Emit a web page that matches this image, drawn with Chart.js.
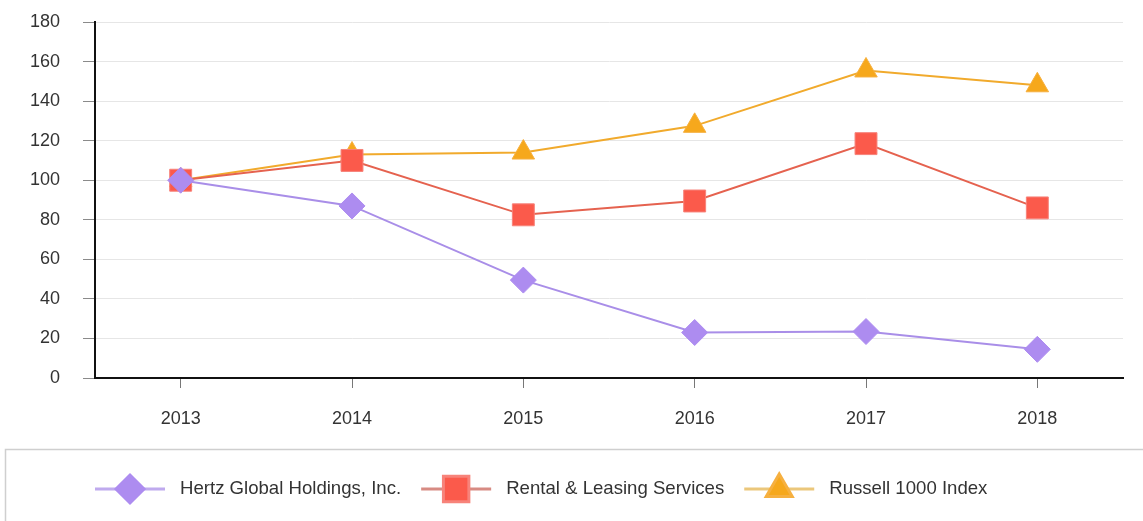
<!DOCTYPE html>
<html>
<head>
<meta charset="utf-8">
<style>
  html, body { margin: 0; padding: 0; background: #fff; }
</style>
</head>
<body>
<canvas id="perfChart" width="1143" height="521"></canvas>

<script src="https://cdn.jsdelivr.net/npm/chart.js"></script>
<script>
    // values (indexed, 2013 = 100)
    const years = ['2013', '2014', '2015', '2016', '2017', '2018'];
    const hertzValues = [100, 87, 49.5, 23, 23.5, 14.5];
    const rentalValues = [100, 110, 82.5, 89.5, 118.5, 86];
    const russellValues = [100, 113, 114, 127.5, 155.5, 148];
    const yTicks = [0, 20, 40, 60, 80, 100, 120, 140, 160, 180];

    const seriesNames = ['Hertz Global Holdings, Inc.', 'Rental & Leasing Services', 'Russell 1000 Index'];

    const FONT = '"Liberation Sans", Arial, sans-serif';

    // legend in a bordered box, line + marker like the original
    const legendBox = {
        id: 'legendBox',
        afterDraw(chart) {
            const ctx = chart.ctx;
            ctx.save();
            ctx.strokeStyle = '#cfcfcf';
            ctx.lineWidth = 1.5;
            ctx.strokeRect(5.5, 449.5, chart.width + 20, 120);

            let x = 95;
            const y = 489;
            ctx.font = '18.6px ' + FONT;
            ctx.textBaseline = 'middle';
            chart.data.datasets.forEach(ds => {
                ctx.strokeStyle = ds.legendLine;
                ctx.lineWidth = 3;
                ctx.beginPath();
                ctx.moveTo(x, y);
                ctx.lineTo(x + 70, y);
                ctx.stroke();

                ctx.fillStyle = ds.pointBackgroundColor;
                ctx.strokeStyle = ds.pointBorderColor;
                Chart.helpers.drawPoint(ctx, {
                    pointStyle: ds.pointStyle,
                    radius: ds.legendRadius,
                    borderWidth: 1,
                    rotation: 0
                }, x + 35, y);

                ctx.fillStyle = '#333';
                ctx.fillText(ds.label, x + 85, y);
                x += 85 + ctx.measureText(ds.label).width + 20;
            });
            ctx.restore();
        }
    };

    new Chart(document.getElementById('perfChart').getContext('2d'), {
        type: 'line',
        data: {
            labels: years,
            datasets: [
                {
                    label: seriesNames[0],
                    data: hertzValues,
                    borderColor: '#a98ee8',
                    borderWidth: 2,
                    pointStyle: 'rectRot',
                    pointRadius: 13,
                    pointBackgroundColor: '#ad8cf0',
                    pointBorderColor: '#ad8cf0',
                    pointBorderWidth: 1,
                    legendRadius: 14,
                    legendLine: 'rgba(169, 142, 232, 0.75)',
                    tension: 0
                },
                {
                    label: seriesNames[1],
                    data: rentalValues,
                    borderColor: '#e5624f',
                    borderWidth: 2,
                    pointStyle: 'rect',
                    pointRadius: 15.5,
                    pointBackgroundColor: '#fb5a4b',
                    pointBorderColor: '#f7837a',
                    pointBorderWidth: 1,
                    legendRadius: 18,
                    legendLine: 'rgba(205, 110, 100, 0.8)',
                    tension: 0
                },
                {
                    label: seriesNames[2],
                    data: russellValues,
                    borderColor: '#f1aa2c',
                    borderWidth: 2,
                    pointStyle: 'triangle',
                    pointRadius: 13,
                    pointBackgroundColor: '#f6a81c',
                    pointBorderColor: '#f6b040',
                    pointBorderWidth: 1,
                    legendRadius: 15,
                    legendLine: 'rgba(230, 185, 90, 0.8)',
                    tension: 0
                }
            ]
        },
        options: {
            responsive: false,
            animation: false,
            devicePixelRatio: 1,
            layout: {
                padding: { top: 22, right: 20, bottom: 83, left: 0 }
            },
            scales: {
                y: {
                    min: 0,
                    max: 180,
                    afterBuildTicks: scale => {
                        scale.ticks = yTicks.map(v => ({ value: v }));
                    },
                    afterFit: scale => {
                        scale.width = 95;
                        scale.paddingTop = 0;
                        scale.paddingBottom = 0;
                    },
                    ticks: {
                        color: '#333',
                        padding: 23,
                        font: { family: FONT, size: 18 }
                    },
                    grid: {
                        color: '#e6e6e6',
                        lineWidth: 1,
                        tickColor: '#8a8a8a',
                        tickLength: 12
                    },
                    border: { display: true, color: '#111', width: 2 }
                },
                x: {
                    offset: true,
                    afterFit: scale => { scale.height = 60; },
                    ticks: {
                        color: '#333',
                        padding: 20,
                        font: { family: FONT, size: 18 }
                    },
                    grid: {
                        offset: false,
                        drawOnChartArea: false,
                        tickColor: '#777',
                        tickLength: 10
                    },
                    border: { display: true, color: '#111', width: 2 }
                }
            },
            plugins: {
                legend: { display: false },
                tooltip: { enabled: false }
            }
        },
        plugins: [legendBox]
    });
</script>
</body>
</html>
